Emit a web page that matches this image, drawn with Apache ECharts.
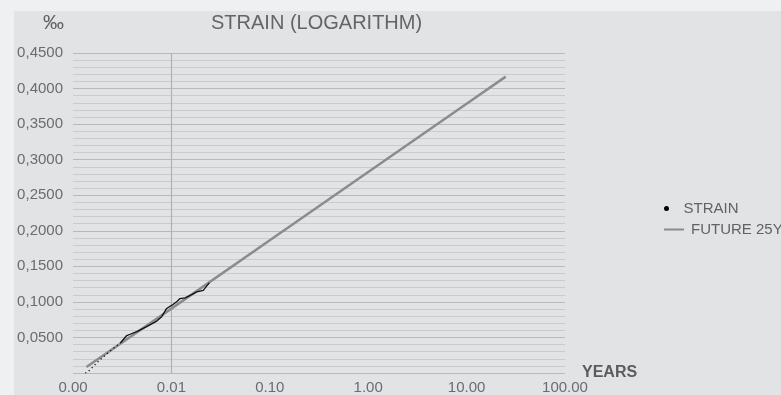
<!DOCTYPE html>
<html>
<head>
<meta charset="utf-8">
<script src="https://cdn.jsdelivr.net/npm/echarts@6/dist/echarts.min.js"></script>
<style>
html,body{margin:0;padding:0;background:#eff0f1;}
#chart{width:781px;height:395px;}
</style>
</head>
<body>
<div id="chart"></div>
<script>
// ---- data ----
const titleText = 'STRAIN (LOGARITHM)';
const seriesNames = ['STRAIN', 'FUTURE 25Y'];
// x tick labels for 0.001, 0.01, 0.1, 1, 10, 100 years
const xTickValues = [0.001, 0.01, 0.1, 1, 10, 100];
const xTickLabels = ['0.00', '0.01', '0.10', '1.00', '10.00', '100.00'];
// y tick labels (‰)
const yTickValues = [0, 0.05, 0.10, 0.15, 0.20, 0.25, 0.30, 0.35, 0.40, 0.45];
const yTickLabels = ['', '0,0500', '0,1000', '0,1500', '0,2000', '0,2500', '0,3000', '0,3500', '0,4000', '0,4500'];

// measured strain – early sparse (dotted) part
const strainEarlyX = [0.00133, 0.00140, 0.00149, 0.00167, 0.00188, 0.00238, 0.00267, 0.00301];
const strainEarlyY = [0.0000, 0.0010, 0.0046, 0.0116, 0.0186, 0.0307, 0.0363, 0.0419];
// measured strain – dense part
const strainX = [0.00301, 0.00352, 0.00380, 0.00444, 0.00561, 0.00710, 0.00797, 0.00895, 0.01014, 0.01132, 0.01223, 0.01375, 0.01608, 0.01807, 0.0211, 0.0229, 0.0243];
const strainY = [0.0419, 0.0527, 0.0545, 0.0582, 0.0652, 0.0730, 0.0792, 0.0908, 0.0954, 0.1001, 0.1047, 0.1057, 0.1103, 0.1141, 0.1163, 0.1225, 0.1267];
// logarithmic fit extrapolated to 25 years
const futureX = [0.00137, 0.01, 0.1, 1, 10, 25];
const futureY = [0.0084, 0.0905, 0.1866, 0.2826, 0.3786, 0.4168];

const zip = (xs, ys) => xs.map((x, i) => [x, ys[i]]);
const FONT = '"Liberation Sans", Arial, sans-serif';
const legendText = { fontFamily: FONT, fontSize: 15, color: '#606264', padding: [0, 0, 0, 2] };

const chart = echarts.init(document.getElementById('chart'));
chart.setOption({
  animation: false,
  textStyle: { fontFamily: FONT },
  graphic: [{
    type: 'rect', z: -10, silent: true,
    shape: { x: 14, y: 11, width: 800, height: 400 },
    style: { fill: '#e1e3e5' }
  }],
  title: {
    text: titleText, left: 206, top: 8,
    textStyle: { fontFamily: FONT, fontSize: 20, fontWeight: 'normal', color: '#636567' }
  },
  legend: [
    {
      orient: 'vertical', left: 659, top: 196, itemWidth: 20, itemHeight: 5,
      textStyle: legendText,
      data: [{ name: seriesNames[0], icon: 'circle' }]
    },
    {
      orient: 'vertical', left: 659, top: 217, itemWidth: 20, itemHeight: 2,
      textStyle: legendText,
      data: [{ name: seriesNames[1], icon: 'rect' }]
    }
  ],
  grid: { left: 73, top: 53, right: 216, bottom: 20, containLabel: false },
  xAxis: {
    type: 'log', logBase: 10, min: 0.001, max: 100,
    name: 'YEARS', nameLocation: 'end', nameGap: 17, nameMoveOverlap: false,
    nameTextStyle: { fontFamily: FONT, fontSize: 16, fontWeight: 'bold', color: '#5a5c5e', padding: [0, 0, 10, 0] },
    axisLine: { show: false }, axisTick: { show: false },
    splitLine: { show: false },
    axisLabel: {
      margin: 7, fontSize: 15, color: '#6a6c6e', fontFamily: FONT,
      formatter: v => {
        const i = xTickValues.findIndex(t => Math.abs(Math.log10(t) - Math.log10(v)) < 1e-6);
        return i >= 0 ? xTickLabels[i] : '';
      }
    }
  },
  yAxis: {
    type: 'value', min: 0, max: 0.45, interval: 0.05,
    name: '‰', nameLocation: 'end', nameGap: 19, nameMoveOverlap: false,
    nameTextStyle: { fontFamily: FONT, fontSize: 21, color: '#606264', align: 'right', padding: [0, 9, 0, 0] },
    axisLine: { show: false }, axisTick: { show: false },
    axisLabel: {
      margin: 10, fontSize: 15, color: '#6a6c6e', fontFamily: FONT,
      formatter: v => {
        const i = yTickValues.findIndex(t => Math.abs(t - v) < 1e-9);
        return i >= 0 ? yTickLabels[i] : '';
      }
    },
    splitLine: { show: true, lineStyle: { color: '#b7b9bc', width: 1.2 } },
    minorTick: { show: false, splitNumber: 5 },
    minorSplitLine: { show: true, lineStyle: { color: '#c9cbce', width: 1 } }
  },
  series: [
    {
      name: seriesNames[0], type: 'line', data: zip(strainX, strainY),
      symbol: 'none', color: '#000', z: 4,
      lineStyle: { color: '#111', width: 1.3 }
    },
    {
      name: seriesNames[0], type: 'line', data: zip(strainEarlyX, strainEarlyY),
      symbol: 'none', color: '#000', z: 4,
      lineStyle: { color: '#111', width: 1.3, type: [1.2, 3] }
    },
    {
      name: seriesNames[1], type: 'line', data: zip(futureX, futureY),
      symbol: 'none', color: '#8a8c8e', z: 3,
      lineStyle: { color: '#8a8c8e', width: 2.5 },
      markLine: {
        silent: true, symbol: 'none', label: { show: false }, z: 1,
        lineStyle: { color: '#b0b2b5', width: 1.2, type: 'solid' },
        data: [{ xAxis: 0.01 }]
      }
    }
  ]
});
</script>
</body>
</html>
